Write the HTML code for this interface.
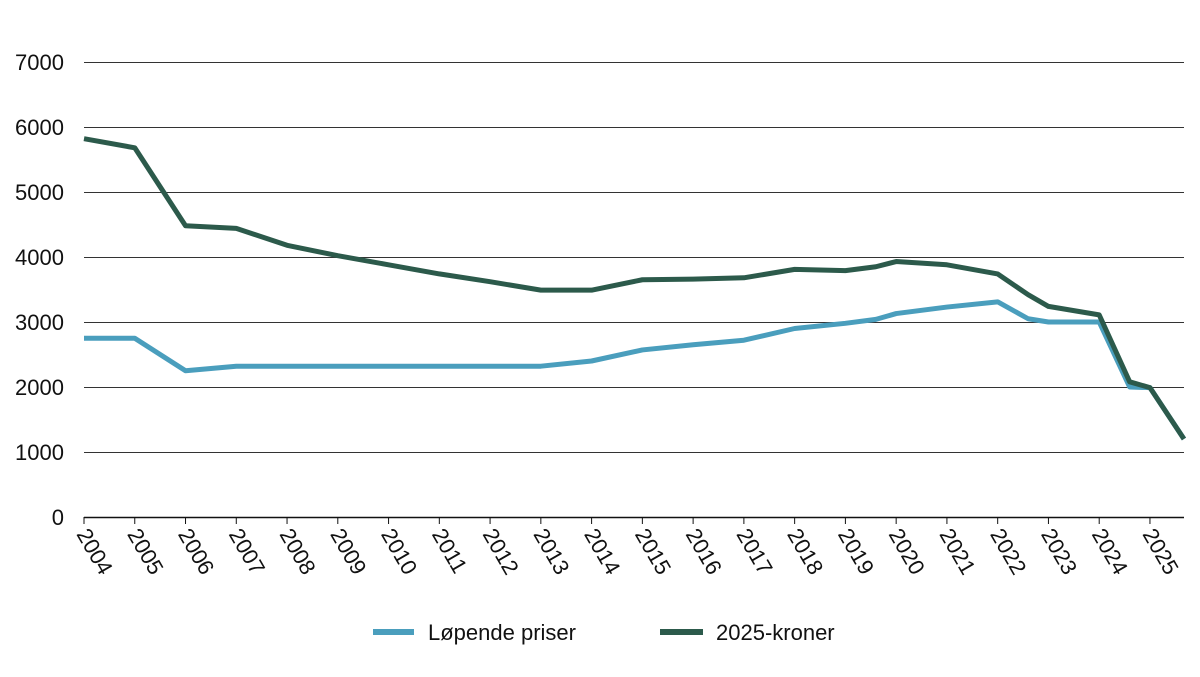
<!DOCTYPE html>
<html><head><meta charset="utf-8"><style>
body{margin:0;background:#fff;font-family:"Liberation Sans",sans-serif}
svg text{font-family:"Liberation Sans",sans-serif;fill:#111}
</style></head><body>
<svg width="1200" height="672">
<g id="grid"></g><g id="xaxis"></g><g id="lines"></g>
<g>
<line x1="373" y1="632" x2="414" y2="632" stroke="#4a9ebd" stroke-width="6"/>
<text x="428" y="640" font-size="22">Løpende priser</text>
<line x1="660" y1="632" x2="703" y2="632" stroke="#2c5a4b" stroke-width="6"/>
<text x="716" y="640" font-size="22">2025-kroner</text>
</g>
</svg>
<script>
const yTicks=[0,1000,2000,3000,4000,5000,6000,7000];
const xLabels=[2004,2005,2006,2007,2008,2009,2010,2011,2012,2013,2014,2015,2016,2017,2018,2019,2020,2021,2022,2023,2024,2025];
const years=[2004,2005,2006,2007,2008,2009,2010,2011,2012,2013,2014,2015,2016,2017,2018,2019,2019.6,2020,2021,2022,2022.6,2023,2024,2024.6,2025,2025.67];
const lopende=[2750,2750,2250,2320,2320,2320,2320,2320,2320,2320,2400,2570,2650,2720,2900,2980,3040,3130,3230,3310,3050,3000,3000,2000,1990,1200];
const kroner2025=[5820,5680,4480,4440,4180,4020,3880,3740,3620,3490,3490,3650,3660,3680,3810,3790,3850,3930,3880,3740,3420,3240,3110,2080,1990,1200];
const NS="http://www.w3.org/2000/svg";
const x=v=>84+(v-2004)*50.76;
const y=v=>517-v*0.065;
function mk(t,a,p){const e=document.createElementNS(NS,t);for(const k in a)e.setAttribute(k,a[k]);p.appendChild(e);return e;}
const grid=document.getElementById('grid');
yTicks.forEach(v=>{
 if(v>0){const gy=Math.round(y(v))+0.5;const l=mk('line',{x1:84,x2:1184,y1:gy,y2:gy,stroke:'#333','stroke-width':1},grid);
 
 }
 const t=mk('text',{x:64,y:y(v)+8,'font-size':22,'text-anchor':'end'},grid);t.textContent=v;
 
 
});
const xa=document.getElementById('xaxis');
const ax=mk('line',{x1:84,x2:1184,y1:517.5,y2:517.5,stroke:'#111','stroke-width':1.5},xa);


xLabels.forEach(v=>{
 const tk=mk('line',{x1:x(v),x2:x(v),y1:517,y2:524,stroke:'#111'},xa);
 
 
 const t=mk('text',{x:x(v)-8,y:534,'font-size':22,transform:`rotate(60 ${x(v)-8} 534)`},xa);t.textContent=v;
 
 
});
const lg=document.getElementById('lines');
function line(vals,c,n){
 const p=mk('polyline',{points:vals.map((v,i)=>x(years[i])+','+y(v)).join(' '),fill:'none',stroke:c,'stroke-width':5,'stroke-linejoin':'round'},lg);
 
 
}
line(lopende,'#4a9ebd','series-lopende-priser');
line(kroner2025,'#2c5a4b','series-2025-kroner');
</script>
</body></html>
